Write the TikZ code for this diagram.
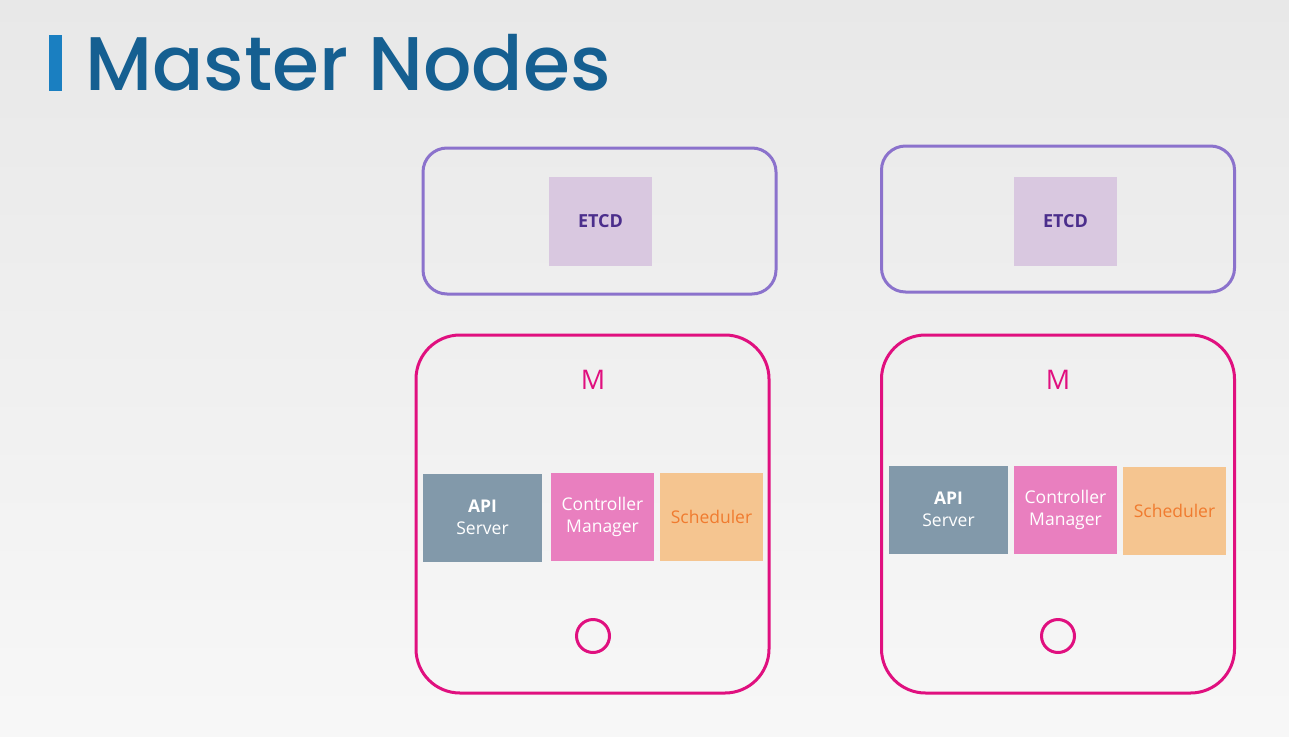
\documentclass[tikz,border=0pt]{standalone}
\usepackage{fontspec}
\setmainfont{Open Sans}
\newfontfamily\titlefont{Poppins Medium}
\usetikzlibrary{positioning}
\definecolor{titleblue}{HTML}{155F91}
\definecolor{barblue}{HTML}{1A7FC1}
\definecolor{etcdline}{HTML}{8B72CC}
\definecolor{etcdfill}{HTML}{D9C8E0}
\definecolor{etcdtext}{HTML}{4B2E8C}
\definecolor{masterline}{HTML}{E0107F}
\definecolor{apifill}{HTML}{8299AA}
\definecolor{cmfill}{HTML}{E97FBF}
\definecolor{schedfill}{HTML}{F5C590}
\definecolor{schedtext}{HTML}{F07B2F}
\begin{document}
\begin{tikzpicture}[x=1pt,y=-1pt,
    etcdouter/.style={draw=etcdline,line width=3pt,rounded corners=24pt,minimum width=353pt,minimum height=146pt},
    masterouter/.style={draw=masterline,line width=3pt,rounded corners=44pt,minimum width=353pt,minimum height=358pt},
    etcdbox/.style={fill=etcdfill,text=etcdtext,font=\fontsize{18}{20}\selectfont\bfseries,minimum width=103pt,minimum height=89pt},
    compbox/.style={minimum height=88pt,align=center,font=\fontsize{17.5}{22}\selectfont},
    apibox/.style={compbox,fill=apifill,text=white,minimum width=119pt},
    cmbox/.style={compbox,fill=cmfill,text=white,minimum width=103pt},
    schedbox/.style={compbox,fill=schedfill,text=schedtext,minimum width=103pt},
    mlabel/.style={text=masterline,font=\fontsize{27}{30}\selectfont},
    hole/.style={circle,draw=masterline,line width=3pt,minimum size=33pt,inner sep=0pt}]
\shade[top color=black!9,bottom color=black!3] (0,0) rectangle (1289,736);
\useasboundingbox (0,0) rectangle (1289,736);
% title
\fill[barblue] (49,35) rectangle (62,91);
\node[anchor=base west,inner sep=0pt,text=titleblue,font=\titlefont\fontsize{76}{80}\selectfont] (title) at (85,90) {Master Nodes};
% first master
\node[etcdouter] (etcdA) at (599.5,221) {};
\node[etcdbox] (etcdinA) at (600.5,221.5) {ETCD};
\node[masterouter] (masterA) at (592.5,514) {};
\node[mlabel] (mA) at (593,380) {M};
\node[apibox] (apiA) at (482.5,517.5) {\textbf{API}\\Server};
\node[cmbox] (cmA) at (602.5,517) {Controller\\Manager};
\node[schedbox] (schedA) at (711.5,517) {Scheduler};
\node[hole] (holeA) at (593,636) {};
% second master
\node[etcdouter] (etcdB) at (1058,219) {};
\node[etcdbox] (etcdinB) at (1065.5,221.5) {ETCD};
\node[masterouter] (masterB) at (1058,514) {};
\node[mlabel] (mB) at (1058,380) {M};
\node[apibox] (apiB) at (948.5,509.5) {\textbf{API}\\Server};
\node[cmbox] (cmB) at (1065.5,509.5) {Controller\\Manager};
\node[schedbox] (schedB) at (1174.5,510.5) {Scheduler};
\node[hole] (holeB) at (1058,636) {};
\end{tikzpicture}
\end{document}
